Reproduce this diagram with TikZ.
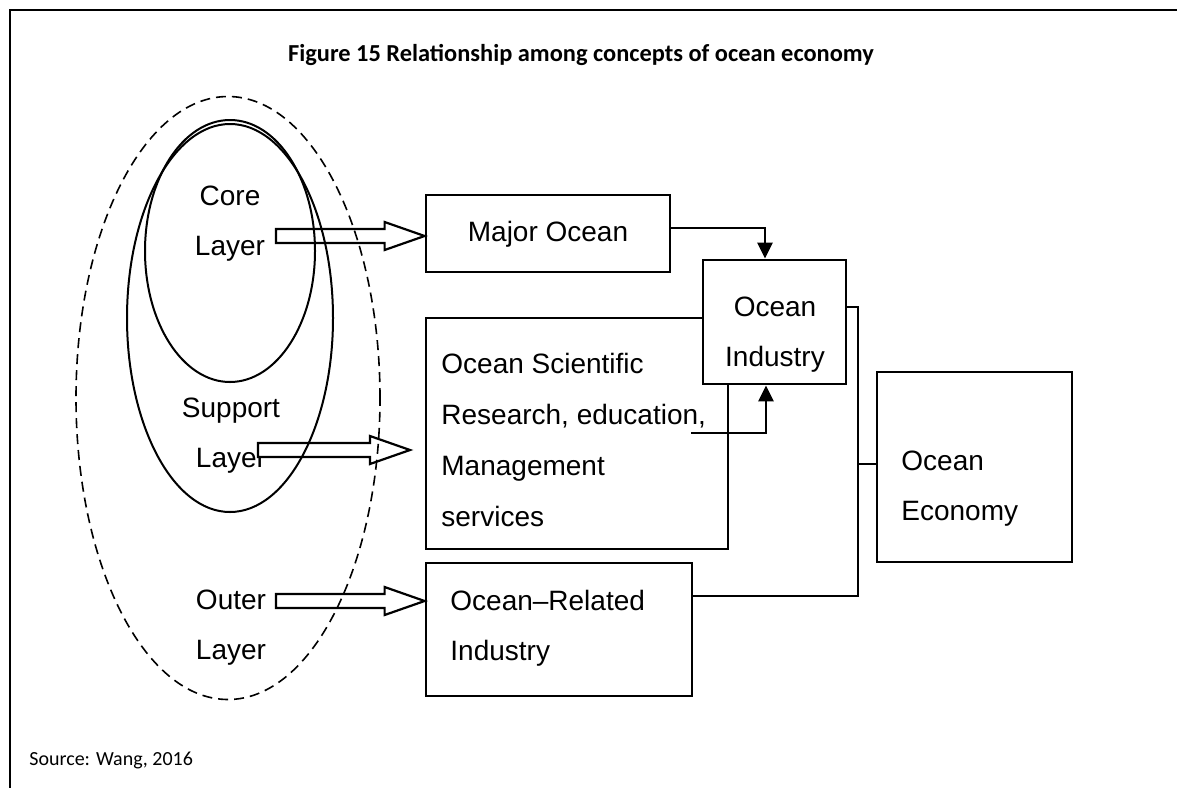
\documentclass[tikz,border=0pt]{standalone}
\usepackage{fontspec}
\setmainfont{Liberation Sans}
\newfontfamily\capfont{Carlito}
\usetikzlibrary{shapes.geometric,calc,arrows.meta}
\tikzset{
  box/.style={draw,line width=1.4pt,inner sep=0pt},
  lbl/.style={inner sep=0pt,font=\fontsize{14}{25}\selectfont},
  layer/.style={ellipse,draw,line width=1pt,inner sep=0pt},
  hollow/.style={draw,fill=white,line width=1.1pt},
  flow/.style={line width=1.4pt,-{Triangle[length=8pt,width=7.5pt]}},
  link/.style={line width=1.4pt}
}
\newcommand\layerarrow[2]{%
  \draw[hollow] ($(#1)+(0,-7)$) -- ($(#2)+(-40,-7)$) -- ($(#2)+(-40,-14)$)
    -- (#2) -- ($(#2)+(-40,14)$) -- ($(#2)+(-40,7)$) -- ($(#1)+(0,7)$) -- cycle;}
\begin{document}
\begin{tikzpicture}[x=0.5pt,y=-0.5pt]
  \useasboundingbox (0,0) rectangle (1177,788);
  \draw[line width=1.2pt] (1177,10) -- (10,10) -- (10,788);
  \node[font=\capfont\bfseries\fontsize{12.2}{14}\selectfont] (title) at (581,55)
    {Figure 15 Relationship among concepts of ocean economy};
  \node[anchor=west,inner sep=0pt,font=\capfont\fontsize{10}{12}\selectfont] (source) at (29,760)
    {Source: Wang, 2016};

  \node[lbl,align=center] (corelbl) at (230,224) {Core\\Layer};
  \node[lbl,align=center] (supportlbl) at (231,436) {Support\\Layer};
  \node[lbl,align=center] (outerlbl) at (231,628) {Outer\\Layer};

  \node[box,minimum width=122pt,minimum height=38.5pt] (major) at (548,233.5) {};
  \node[box,minimum width=133pt,minimum height=66.5pt] (related) at (559,629.5) {};

  \coordinate (coretail) at (276,236);
  \coordinate (suptail) at (258,450);
  \coordinate (suptip) at (410,450);
  \coordinate (outertail) at (276,601);
  \layerarrow{coretail}{major.west |- coretail}
  \layerarrow{suptail}{suptip}
  \layerarrow{outertail}{related.west |- outertail}

  \node[layer,dashed,dash pattern=on 5pt off 3pt,line width=0.8pt,
    minimum width=152pt,minimum height=301.5pt] (outer) at (228,398) {};
  \node[layer,minimum width=103pt,minimum height=194pt] (support) at (230,318) {};
  \node[layer,minimum width=85pt,minimum height=131pt] (core) at (230,251) {};

  \node[lbl] (majortxt) at (548,234) {Major Ocean};
  \node[box,minimum width=151pt,minimum height=115.5pt] (science) at (577,433.5) {};
  \node[lbl,anchor=west,align=left,font=\fontsize{14}{25.5}\selectfont] (sciencetxt) at (441,439.5)
    {Ocean Scientific\\Research, education,\\Management\\services};
  \node[box,fill=white,minimum width=71.5pt,minimum height=62pt] (industry) at (774.5,322) {};
  \node[lbl,align=center] (industrytxt) at (775,335) {Ocean\\Industry};
  \node[box,minimum width=97.5pt,minimum height=95pt] (economy) at (974.5,467) {};
  \node[lbl,anchor=west,align=left] (economytxt) at (901,489) {Ocean\\Economy};
  \node[lbl,anchor=west,align=left] (relatedtxt) at (450,628) {Ocean--Related\\Industry};

  \begin{scope}
    \coordinate (mbend) at (765,228);
    \coordinate (edu) at (691,433);
    \coordinate (rise) at (766,433);
    \coordinate (jtop) at (858,307);
    \coordinate (jmid) at (858,464);
    \coordinate (jbot) at (858,596);
    \draw[flow] (major.east |- mbend) -- (mbend) -- (industry.north -| mbend);
    \draw[flow] (edu) -- (rise) -- (industry.south -| rise);
    \draw[link] (industry.east |- jtop) -- (jtop) -- (jbot) -- (related.east |- jbot);
    \draw[link] (jmid) -- (economy.west |- jmid);
  \end{scope}
\end{tikzpicture}
\end{document}
